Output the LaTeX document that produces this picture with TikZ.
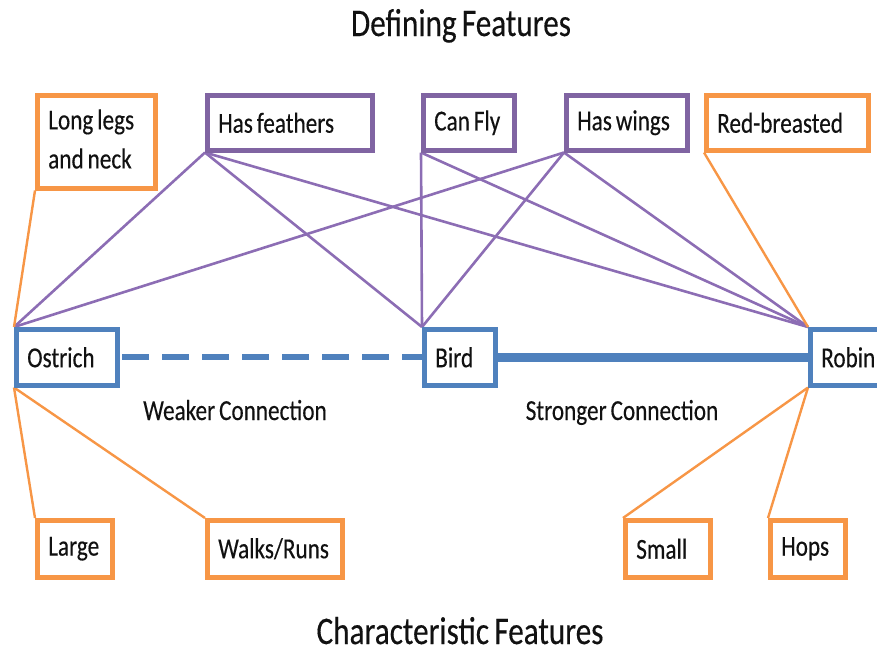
\documentclass[tikz,border=0pt]{standalone}
\usepackage{fontspec}
\setmainfont{Carlito}[FakeStretch=0.8, WordSpace=0.75, FakeBold=0.3]
\usetikzlibrary{backgrounds}
\definecolor{featpurple}{HTML}{8064A2}
\definecolor{linepurple}{HTML}{8C6DB4}
\definecolor{charorange}{HTML}{F79646}
\definecolor{catblue}{HTML}{4F81BD}
\definecolor{inktext}{HTML}{111111}
% left-aligned label of a given width inside a box
\newcommand{\leftlabel}[2]{\makebox[#1pt][l]{#2}}
\tikzset{
  featbox/.style={draw=#1, line width=4.5pt, fill=white, anchor=north west,
    inner xsep=11pt, inner ysep=0pt, text=inktext,
    font=\fontsize{29}{36}\selectfont},
  purplebox/.style={featbox=featpurple},
  orangebox/.style={featbox=charorange},
  bluebox/.style={featbox=catblue},
  defline/.style={draw=linepurple, line width=2.6pt},
  charline/.style={draw=charorange, line width=2.4pt},
  caption/.style={text=inktext, font=\fontsize{29}{36}\selectfont, anchor=base},
  heading/.style={text=inktext, font=\fontsize{39}{46}\selectfont, anchor=base},
}
\begin{document}
\begin{tikzpicture}[x=1pt, y=-1pt]
\useasboundingbox (0,0) rectangle (877,654);
\clip (0,0) rectangle (877,654);

% headings
\node[heading] (deftitle) at (461,36) {Defining Features};
\node[heading] (chartitle) at (460,644) {Characteristic Features};

% defining features
\node[purplebox, minimum width=165, minimum height=55] (feathers) at (205,93) {\leftlabel{143}{Has feathers}};
\node[purplebox, minimum width=91, minimum height=55] (fly) at (421,93) {\leftlabel{69}{Can Fly}};
\node[purplebox, minimum width=121, minimum height=55] (wings) at (564,93) {\leftlabel{99}{Has wings}};

% characteristic features, top row
\node[orangebox, minimum width=118, minimum height=93] (legs) at (35,93)
  {\leftlabel{96}{\begin{tabular}{@{}l@{}}Long legs\\[3pt]and neck\end{tabular}}};
\node[orangebox, minimum width=162, minimum height=55] (red) at (704,93) {\leftlabel{140}{Red-breasted}};

% categories
\node[bluebox, minimum width=101, minimum height=56] (ostrich) at (14,327) {\leftlabel{79}{Ostrich}};
\node[bluebox, minimum width=71, minimum height=56] (bird) at (422,327) {\leftlabel{49}{Bird}};
\node[bluebox, minimum width=90, minimum height=56] (robin) at (808,327) {\leftlabel{68}{Robin}};

% characteristic features, bottom row
\node[orangebox, minimum width=75, minimum height=57] (large) at (35,518) {\leftlabel{53}{Large}};
\node[orangebox, minimum width=135, minimum height=57] (walks) at (205,518) {\leftlabel{113}{Walks/Runs}};
\node[orangebox, minimum width=85, minimum height=57] (small) at (623,518) {\leftlabel{63}{Small}};
\node[orangebox, minimum width=75, minimum height=57] (hops) at (768,518) {\leftlabel{53}{Hops}};

% connection captions
\node[caption] (weak) at (235,420) {Weaker Connection};
\node[caption] (strong) at (622,420) {Stronger Connection};

\begin{scope}[on background layer]
  % defining features to categories
  \draw[defline] (feathers.south west) -- (ostrich.north west);
  \draw[defline] (feathers.south west) -- (bird.north west);
  \draw[defline] (feathers.south west) -- (robin.north west);
  \draw[defline] (fly.south west) -- (bird.north west);
  \draw[defline] (fly.south west) -- (robin.north west);
  \draw[defline] (wings.south west) -- (ostrich.north west);
  \draw[defline] (wings.south west) -- (bird.north west);
  \draw[defline] (wings.south west) -- (robin.north west);
  % characteristic features to categories
  \draw[charline] (legs.south west) -- (ostrich.north west);
  \draw[charline] (red.south west) -- (robin.north west);
  \draw[charline] (ostrich.south west) -- (large.north west);
  \draw[charline] (ostrich.south west) -- (walks.north west);
  \draw[charline] (robin.south west) -- (small.north west);
  \draw[charline] (robin.south west) -- (hops.north west);
\end{scope}

% category links
\draw[catblue, line width=6pt, dash pattern=on 27pt off 13pt] (ostrich.east) ++(2.5,0) -- (bird.west);
\draw[catblue, line width=9pt] (bird.east) -- (robin.west);
\end{tikzpicture}
\end{document}
